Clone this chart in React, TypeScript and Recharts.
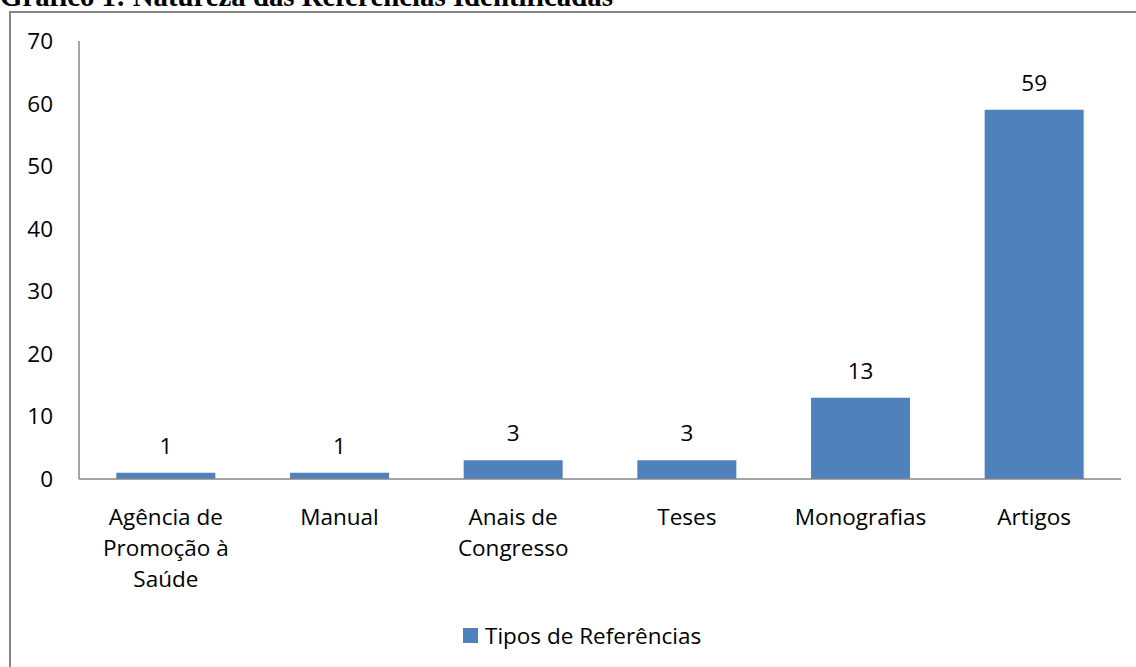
import { BarChart, Bar, XAxis, YAxis, LabelList, Legend } from 'recharts'

const categories = ['Agência de Promoção à Saúde', 'Manual', 'Anais de Congresso', 'Teses', 'Monografias', 'Artigos']
const tickLines = [['Agência de', 'Promoção à', 'Saúde'], ['Manual'], ['Anais de', 'Congresso'], ['Teses'], ['Monografias'], ['Artigos']]
const referencias = [1, 1, 3, 3, 13, 59]
const yTicks = [0, 10, 20, 30, 40, 50, 60, 70]
const seriesName = 'Tipos de Referências'

const font = '"Open Sans", sans-serif'
const blue = '#4F81BD'
const grey = '#868686'

const data = categories.map((c, i) => ({ name: c, value: referencias[i] }))

function CategoryTick(props: any) {
  const { x, y, payload } = props
  const lines = tickLines[payload.index] || [payload.value]
  return (
    <text x={x} y={y} textAnchor="middle" fontFamily={font} fontSize={22.5} fill="#000">
      {lines.map((l, i) => (
        <tspan key={i} x={x} dy={i === 0 ? 46 : 31}>
          {l}
        </tspan>
      ))}
    </text>
  )
}

function LegendContent() {
  return (
    <div style={{ display: 'flex', alignItems: 'center', fontFamily: font, fontSize: 22.5, color: '#000' }}>
      <span style={{ width: 15, height: 15, background: blue, display: 'inline-block', marginRight: 7 }} />
      <span>{seriesName}</span>
    </div>
  )
}

export default function App() {
  return (
    <div style={{ position: 'absolute', left: 0, top: 0, width: 1136, height: 667, overflow: 'hidden', background: '#fff' }}>
      {/* title is cut at the top edge, like the source scan */}
      <div
        style={{
          position: 'absolute',
          left: 0,
          top: -18,
          fontFamily: '"Liberation Serif", "Times New Roman", serif',
          fontWeight: 'bold',
          fontSize: 28.8,
          lineHeight: '28px',
          whiteSpace: 'nowrap',
          color: '#000',
        }}
      >
        Gráfico 1: Natureza das Referências Identificadas
      </div>
      <div
        style={{
          position: 'absolute',
          left: 9,
          top: 11,
          width: 1200,
          height: 700,
          border: `2px solid ${grey}`,
          boxSizing: 'border-box',
        }}
      />
      <div style={{ position: 'absolute', left: 0, top: 0 }}>
        <BarChart
          width={1136}
          height={667}
          data={data}
          margin={{ top: 41, right: 15, left: 0, bottom: 88 }}
          barCategoryGap="21.5%"
        >
          <XAxis
            dataKey="name"
            height={100}
            interval={0}
            tickLine={false}
            tickSize={0}
            tickMargin={0}
            axisLine={{ stroke: grey, strokeWidth: 1.5 }}
            tick={<CategoryTick />}
          />
          <YAxis
            width={79}
            domain={[0, 70]}
            ticks={yTicks}
            interval={0}
            tickLine={false}
            tickSize={0}
            tickMargin={26}
            axisLine={{ stroke: grey, strokeWidth: 1.5 }}
            tick={{ fill: '#000', fontSize: 22.5, fontFamily: font }}
          />
          <Legend
            layout="horizontal"
            verticalAlign="middle"
            align="center"
            wrapperStyle={{ position: 'absolute', top: 620, left: 463, width: 'auto' }}
            content={<LegendContent />}
          />
          <Bar dataKey="value" name={seriesName} fill={blue} isAnimationActive={false}>
            <LabelList dataKey="value" position="top" offset={19} fill="#000" fontSize={22.5} fontFamily={font} />
          </Bar>
        </BarChart>
      </div>
    </div>
  )
}
